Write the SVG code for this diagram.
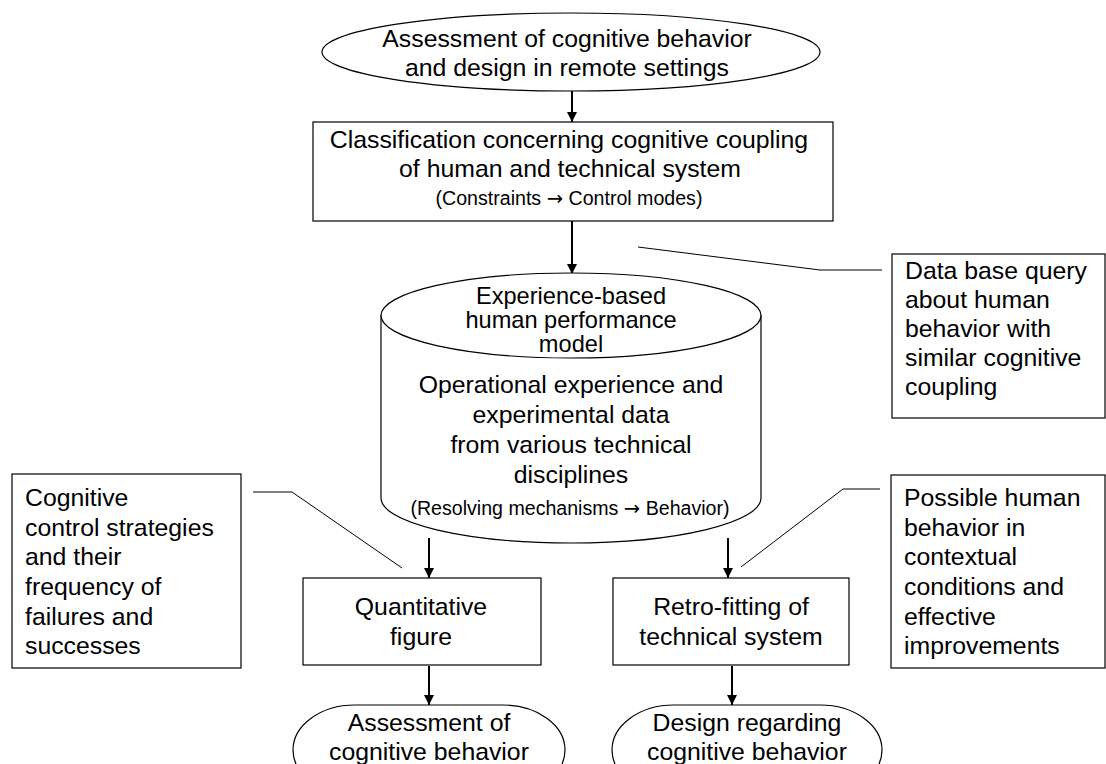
<svg xmlns="http://www.w3.org/2000/svg" width="1106" height="764" viewBox="0 0 1106 764">
<defs>
<marker id="arr" viewBox="0 0 10 10" refX="10" refY="5" markerWidth="10" markerHeight="11" markerUnits="userSpaceOnUse" orient="auto">
<path d="M0,0 L10,5 L0,10 z" fill="#000"/>
</marker>
<style>
.s{fill:#fff;stroke:#000;stroke-width:1.2}
.t{font-family:"Liberation Sans",Arial,sans-serif;font-size:24.8px;fill:#000}
.c{text-anchor:middle}
.sm{font-size:19.6px}
.ar{font-family:"DejaVu Sans",sans-serif}
.a{stroke:#000;stroke-width:2;fill:none}
.l{stroke:#000;stroke-width:1;fill:none}
</style>
</defs>
<rect width="1106" height="764" fill="#fff"/>
<g id="connectors">
<line class="a" x1="572" y1="91" x2="572" y2="122" marker-end="url(#arr)"/>
<line class="a" x1="572" y1="221" x2="572" y2="274" marker-end="url(#arr)"/>
<line class="a" x1="429" y1="538" x2="429" y2="578" marker-end="url(#arr)"/>
<line class="a" x1="728" y1="538" x2="728" y2="578" marker-end="url(#arr)"/>
<line class="a" x1="429" y1="666" x2="429" y2="705" marker-end="url(#arr)"/>
<line class="a" x1="732" y1="666" x2="732" y2="705" marker-end="url(#arr)"/>
<polyline class="l" points="638,247 820,270 882,270"/>
<polyline class="l" points="253,492 292,492 402,568"/>
<polyline class="l" points="880,489 843,489 741,567"/>
</g>
<g id="start">
<ellipse class="s" cx="571" cy="52" rx="249" ry="39"/>
<text class="t c" x="567" y="47">Assessment of cognitive behavior</text>
<text class="t c" x="567" y="76">and design in remote settings</text>
</g>
<g id="classification">
<rect class="s" x="313" y="122" width="520" height="99"/>
<text class="t c" x="569" y="148">Classification concerning cognitive coupling</text>
<text class="t c" x="570" y="177">of human and technical system</text>
<text class="t c sm" x="569" y="205">(Constraints <tspan class="ar">→</tspan> Control modes)</text>
</g>
<g id="model">
<path class="s" d="M381,315 L381,498 A190,45 0 0 0 761,498 L761,315"/>
<ellipse class="s" cx="571" cy="315.5" rx="190" ry="42.5"/>
<text class="t c" x="571" y="304" style="font-size:23.6px">Experience-based</text>
<text class="t c" x="571" y="328" style="font-size:23.6px">human performance</text>
<text class="t c" x="571" y="352" style="font-size:23.6px">model</text>
<text class="t c" x="571" y="393">Operational experience and</text>
<text class="t c" x="571" y="423">experimental data</text>
<text class="t c" x="571" y="453">from various technical</text>
<text class="t c" x="571" y="483">disciplines</text>
<text class="t c sm" x="570" y="515">(Resolving mechanisms <tspan class="ar">→</tspan> Behavior)</text>
</g>
<g id="query">
<rect class="s" x="892" y="254" width="213" height="164"/>
<text class="t" x="905" y="279">Data base query</text>
<text class="t" x="905" y="308">about human</text>
<text class="t" x="905" y="337">behavior with</text>
<text class="t" x="905" y="366">similar cognitive</text>
<text class="t" x="905" y="395">coupling</text>
</g>
<g id="strategies">
<rect class="s" x="12" y="474" width="229" height="194"/>
<text class="t" x="25" y="506">Cognitive</text>
<text class="t" x="25" y="536">control strategies</text>
<text class="t" x="25" y="565">and their</text>
<text class="t" x="25" y="595">frequency of</text>
<text class="t" x="25" y="625">failures and</text>
<text class="t" x="25" y="654">successes</text>
</g>
<g id="possible">
<rect class="s" x="891" y="475" width="214" height="193"/>
<text class="t" x="904" y="506">Possible human</text>
<text class="t" x="904" y="536">behavior in</text>
<text class="t" x="904" y="565">contextual</text>
<text class="t" x="904" y="595">conditions and</text>
<text class="t" x="904" y="625">effective</text>
<text class="t" x="904" y="654">improvements</text>
</g>
<g id="quantitative">
<rect class="s" x="303" y="578" width="238" height="87"/>
<text class="t c" x="421" y="615">Quantitative</text>
<text class="t c" x="421" y="645">figure</text>
</g>
<g id="retrofit">
<rect class="s" x="613" y="578" width="236" height="87"/>
<text class="t c" x="731" y="615">Retro-fitting of</text>
<text class="t c" x="731" y="645">technical system</text>
</g>
<g id="assessment">
<rect class="s" x="293" y="705" width="272" height="90" rx="62" ry="45"/>
<text class="t c" x="429" y="731">Assessment of</text>
<text class="t c" x="429" y="760">cognitive behavior</text>
</g>
<g id="design">
<rect class="s" x="612" y="705" width="270" height="90" rx="62" ry="45"/>
<text class="t c" x="747" y="731">Design regarding</text>
<text class="t c" x="747" y="760">cognitive behavior</text>
</g>
</svg>
